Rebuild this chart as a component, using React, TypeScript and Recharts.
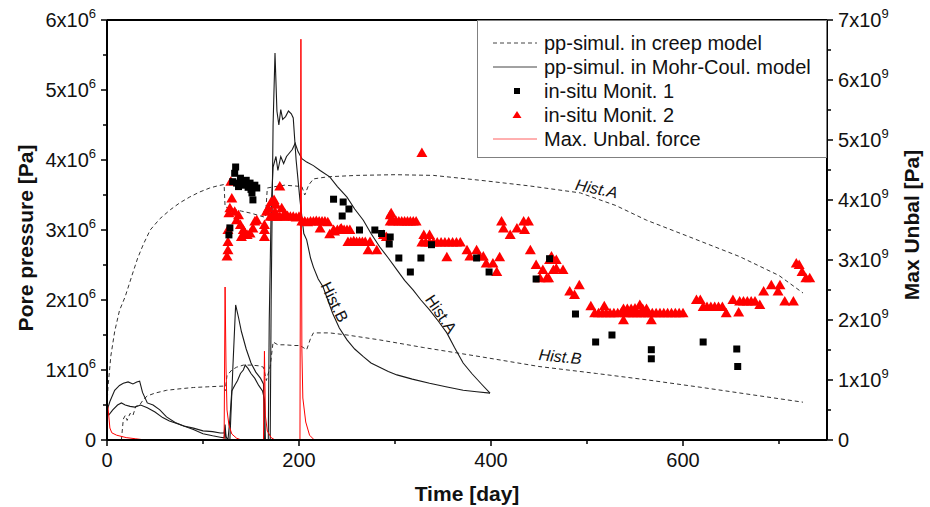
import React from "react";
import {
  ComposedChart,
  Line,
  Scatter,
  XAxis,
  YAxis,
  Legend,
  ReferenceLine,
  ReferenceDot,
} from "recharts";

const FONT = '"Liberation Sans", Arial, Helvetica, sans-serif';

// [time (day), pore pressure (MPa)]
const creepHistA: [number, number][] = [
  [0, 0.5], [1, 0.75], [4, 1.2], [8, 1.55], [13, 1.85], [19, 2.05], [26, 2.35], [32, 2.6],
  [38, 2.8], [45, 3.0], [55, 3.16], [66, 3.29], [76, 3.39], [86, 3.47], [96, 3.54], [107, 3.6],
  [115, 3.63], [122, 3.65], [123, 3.33], [130, 3.3], [140, 3.27], [150, 3.24], [160, 3.2],
  [165, 3.18], [167, 3.6], [175, 3.62], [185, 3.64], [195, 3.63], [203, 3.62], [206, 3.5],
  [210, 3.64], [215, 3.73], [230, 3.76], [260, 3.78], [300, 3.79], [340, 3.78], [389, 3.71],
  [440, 3.63], [493, 3.53], [530, 3.35], [562, 3.14], [607, 2.9], [659, 2.62], [700, 2.35],
  [725, 2.1],
];

const creepHistB: [number, number][] = [
  [15, 0], [17, 0.3], [19, 0.35], [21, 0.28], [24, 0.38], [27, 0.35], [30, 0.48], [34, 0.5],
  [38, 0.58], [42, 0.63], [50, 0.67], [62, 0.71], [75, 0.73], [90, 0.75], [105, 0.76],
  [121, 0.77], [123, 0.7], [125, 0.92], [130, 1.0], [135, 1.04], [142, 1.07], [150, 1.07],
  [158, 1.06], [163, 1.04], [166, 0.85], [170, 1.05], [173, 1.4], [178, 1.36], [185, 1.36],
  [195, 1.35], [201, 1.35], [208, 1.29], [212, 1.45], [215, 1.53], [232, 1.53], [250, 1.5],
  [284, 1.43], [330, 1.32], [389, 1.19], [450, 1.05], [510, 0.95], [562, 0.86], [620, 0.75],
  [680, 0.63], [725, 0.54],
];

const mohrHistA: [number, number][] = [
  [0, 0.42], [3, 0.55], [8, 0.71], [13, 0.78], [17, 0.81], [22, 0.83], [27, 0.8], [31, 0.83],
  [34, 0.84], [37, 0.68], [42, 0.53], [48, 0.5], [55, 0.43], [62, 0.33], [71, 0.25], [80, 0.2],
  [90, 0.17], [100, 0.13], [110, 0.12], [118, 0.1], [122, 0.1], [123, 0.22], [124, 0.05],
  [126, 0], [128, 0.3], [130, 0.7], [133, 0.78], [136, 0.85], [139, 0.95], [142, 1.0],
  [144, 1.07], [147, 1.02], [150, 0.95], [154, 0.88], [158, 0.78], [162, 0.7], [164, 0.58],
  [165, 0], [168, 0], [169, 1.7], [171, 3.3], [173, 3.9], [176, 4.05], [178, 3.85], [181, 4.05],
  [184, 3.95], [187, 4.05], [190, 4.1], [193, 4.15], [196, 4.24], [199, 4.12], [203, 4.02],
  [208, 3.97], [215, 3.92], [222, 3.85], [232, 3.76], [240, 3.62], [250, 3.47], [258, 3.3],
  [267, 3.14], [275, 2.95], [284, 2.76], [293, 2.6], [302, 2.43], [310, 2.28], [319, 2.14],
  [327, 2.0], [336, 1.86], [345, 1.7], [354, 1.53], [362, 1.32], [371, 1.1], [380, 0.95],
  [390, 0.8], [399, 0.67],
];

const mohrHistB: [number, number][] = [
  [0, 0.4], [2, 0.36], [6, 0.43], [11, 0.5], [15, 0.53], [19, 0.5], [24, 0.48], [29, 0.47],
  [35, 0.5], [42, 0.46], [50, 0.4], [58, 0.32], [65, 0.27], [72, 0.24], [80, 0.2], [90, 0.15],
  [100, 0.09], [110, 0.06], [118, 0.04], [122, 0.03], [123, 0.15], [124, 0], [128, 0],
  [131, 1.0], [134, 1.93], [137, 1.75], [140, 1.55], [145, 1.3], [150, 1.1], [155, 0.97],
  [160, 0.88], [163, 0.8], [164, 0], [170, 0], [171, 2.0], [173, 4.5], [175, 5.53], [177, 4.7],
  [179, 4.5], [181, 4.72], [183, 4.58], [186, 4.62], [189, 4.7], [192, 4.66], [194, 4.6],
  [197, 4.0], [201, 3.43], [205, 2.95], [208, 2.86], [212, 2.6], [215, 2.47], [220, 2.3],
  [225, 2.19], [230, 2.0], [235, 1.81], [242, 1.6], [250, 1.43], [258, 1.3], [267, 1.19],
  [275, 1.1], [284, 1.04], [293, 0.98], [302, 0.93], [318, 0.87], [336, 0.81], [353, 0.76],
  [371, 0.71], [385, 0.69], [399, 0.67],
];

const monit1: [number, number][] = [
  [127, 2.93], [128, 3.03], [131, 3.69], [133, 3.81], [134, 3.9], [135, 3.67], [137, 3.62],
  [139, 3.74], [141, 3.64], [142, 3.69], [144, 3.66], [145, 3.71], [147, 3.61], [149, 3.67],
  [150, 3.58], [151, 3.53], [152, 3.43], [154, 3.64], [156, 3.6], [236, 3.44], [246, 3.4],
  [252, 3.3], [245, 3.2], [263, 3.0], [279, 3.0], [286, 2.95], [295, 2.9], [294, 2.8],
  [304, 2.6], [316, 2.4], [327, 2.6], [338, 2.79], [385, 2.6], [398, 2.4], [447, 2.3],
  [461, 2.59], [488, 1.8], [509, 1.4], [526, 1.5], [567, 1.29], [567, 1.16], [621, 1.4],
  [656, 1.3], [657, 1.05],
];

const monit2: [number, number][] = [
  [125, 2.62], [126, 2.71], [126, 2.83], [126, 3.0], [127, 3.24], [128, 3.31], [129, 3.69],
  [130, 3.45], [133, 3.26], [135, 3.14], [137, 3.21], [139, 3.07], [140, 2.9], [142, 3.0],
  [144, 2.95], [146, 2.93], [149, 2.95], [152, 3.02], [154, 3.12], [156, 3.14], [164, 2.9],
  [164, 3.0], [164, 3.07], [166, 3.26], [168, 3.31], [171, 3.4], [174, 3.43], [175, 3.26],
  [176, 3.36], [180, 3.62], [182, 3.31], [185, 3.24], [170, 3.19], [173, 3.19], [177, 3.19],
  [180, 3.19], [184, 3.19], [188, 3.2], [191, 3.19], [194, 3.19], [197, 3.18], [200, 3.19],
  [203, 3.12], [206, 3.12], [209, 3.11], [212, 3.12], [215, 3.12], [218, 3.13], [221, 3.12],
  [224, 3.12], [227, 3.12], [230, 3.11], [222, 3.02], [232, 2.94], [237, 2.98], [244, 3.02],
  [236, 3.0], [240, 3.0], [243, 3.01], [247, 3.0], [250, 3.0], [253, 3.0], [251, 2.83],
  [254, 2.83], [257, 2.84], [260, 2.83], [263, 2.83], [266, 2.83], [269, 2.83], [272, 2.71],
  [274, 2.83], [281, 2.71], [288, 2.93], [291, 2.9], [295, 3.21], [296, 3.24], [295, 3.12],
  [298, 3.12], [301, 3.13], [304, 3.12], [307, 3.12], [310, 3.12], [313, 3.12], [316, 3.12],
  [319, 3.12], [322, 3.12], [328, 4.1], [330, 2.93], [336, 2.93], [328, 2.82], [332, 2.82],
  [336, 2.82], [340, 2.82], [344, 2.82], [348, 2.82], [352, 2.82], [356, 2.82], [360, 2.82],
  [364, 2.82], [368, 2.82], [354, 2.61], [375, 2.71], [378, 2.62], [385, 2.71], [388, 2.62],
  [392, 2.62], [395, 2.52], [402, 2.52], [406, 2.4], [409, 2.61], [411, 3.12], [413, 3.02],
  [420, 2.93], [427, 3.02], [434, 3.12], [435, 3.0], [439, 3.12], [441, 2.71], [447, 2.5],
  [451, 2.31], [454, 2.43], [458, 2.31], [460, 2.31], [461, 2.57], [463, 2.62], [465, 2.43],
  [468, 2.57], [468, 2.45], [475, 2.43], [482, 2.12], [487, 2.07], [492, 2.21], [504, 1.91],
  [508, 1.81], [512, 1.81], [516, 1.81], [518, 1.91], [520, 1.81], [524, 1.81], [528, 1.81],
  [532, 1.81], [536, 1.82], [538, 1.71], [538, 1.87], [542, 1.87], [546, 1.87], [550, 1.88],
  [555, 1.93], [558, 1.87], [562, 1.87], [540, 1.81], [544, 1.81], [548, 1.81], [552, 1.81],
  [556, 1.81], [560, 1.81], [564, 1.81], [567, 1.71], [568, 1.81], [572, 1.81], [576, 1.81],
  [580, 1.81], [584, 1.81], [588, 1.81], [592, 1.81], [596, 1.81], [600, 1.81], [614, 2.0],
  [618, 2.0], [621, 1.9], [625, 1.9], [629, 1.9], [633, 1.9], [637, 1.9], [641, 1.9],
  [645, 1.81], [652, 2.0], [658, 1.82], [659, 1.98], [663, 1.98], [667, 1.98], [671, 1.98],
  [675, 1.98], [680, 1.93], [684, 2.12], [692, 2.21], [699, 2.12], [701, 2.21], [706, 1.98],
  [715, 1.98], [718, 2.52], [721, 2.5], [724, 2.4], [728, 2.31], [732, 2.31],
];

// [time (day), max unbalanced force (GPa)]
const unbalForce: [number, number][] = [
  [0, 0.6], [1, 0.55], [3, 0.2], [5, 0.12], [10, 0.08], [20, 0.04], [30, 0.02], [40, 0],
  [122, 0], [123, 2.55], [124, 1.2], [125, 0.5], [127, 0.25], [130, 0.1], [135, 0.03],
  [140, 0], [163, 0], [164, 1.48], [165, 0.4], [167, 0.15], [171, 0.04], [175, 0], [201, 0],
  [202, 6.68], [203, 1.5], [204, 0.7], [207, 0.3], [211, 0.08], [216, 0], [727, 0],
];

const xTicks = [0, 100, 200, 300, 400, 500, 600, 700];
const leftTicks = [0, 5e5, 1e6, 1.5e6, 2e6, 2.5e6, 3e6, 3.5e6, 4e6, 4.5e6, 5e6, 5.5e6, 6e6];
const rightTicks = [0, 5e8, 1e9, 1.5e9, 2e9, 2.5e9, 3e9, 3.5e9, 4e9, 4.5e9, 5e9, 5.5e9, 6e9, 6.5e9, 7e9];

const legendItems = [
  { label: "pp-simul. in creep model", kind: "dash" },
  { label: "pp-simul. in Mohr-Coul. model", kind: "solid" },
  { label: "in-situ Monit. 1", kind: "square" },
  { label: "in-situ Monit. 2", kind: "triangle" },
  { label: "Max. Unbal. force", kind: "red" },
];

const notes = [
  { text: "Hist.A", t: 510, p: 3.59, angle: 12, italic: true },
  { text: "Hist.B", t: 472, p: 1.19, angle: 6, italic: true },
  { text: "Hist.B", t: 237, p: 1.97, angle: 64, italic: false },
  { text: "Hist.A", t: 348, p: 1.8, angle: 56, italic: false },
];

const toPts = (arr: [number, number][], scale: number) =>
  arr.map(([t, p]) => ({ t, p: p * scale }));

const isWhole = (v: number) => Math.abs(v - Math.round(v)) < 1e-6;

function PowLabel({ v, exp }: { v: number; exp: number }) {
  if (v === 0) return <>0</>;
  return (
    <>
      {v}x10
      <tspan dy={-9} fontSize={13}>
        {exp}
      </tspan>
    </>
  );
}

function LeftTick({ x, y, payload }: any) {
  const v = payload.value / 1e6;
  const major = isWhole(v);
  const ax = x + 10;
  return (
    <g>
      <line x1={ax - (major ? 6 : 4)} x2={ax} y1={y} y2={y} stroke="#000" strokeWidth={1.5} />
      {major && (
        <text x={x - 1} y={y} dy={7} textAnchor="end" fontSize={20} fontFamily={FONT} fill="#111">
          <PowLabel v={Math.round(v)} exp={6} />
        </text>
      )}
    </g>
  );
}

function RightTick({ x, y, payload }: any) {
  const v = payload.value / 1e9;
  const major = isWhole(v);
  const ax = x - 10;
  return (
    <g>
      <line x1={ax} x2={ax + (major ? 6 : 4)} y1={y} y2={y} stroke="#000" strokeWidth={1.5} />
      {major && (
        <text x={x + 1} y={y} dy={7} textAnchor="start" fontSize={20} fontFamily={FONT} fill="#111">
          <PowLabel v={Math.round(v)} exp={9} />
        </text>
      )}
    </g>
  );
}

function BottomTick({ x, y, payload }: any) {
  const ay = y - 9;
  const major = payload.value % 200 === 0;
  return (
    <g>
      <line x1={x} x2={x} y1={ay} y2={ay + (major ? 6 : 4)} stroke="#000" strokeWidth={1.5} />
      {major && (
        <text x={x} y={y} dy={18} textAnchor="middle" fontSize={20} fontFamily={FONT} fill="#111">
          {payload.value}
        </text>
      )}
    </g>
  );
}

const Square = ({ cx, cy }: any) => <rect x={cx - 3.5} y={cy - 3.5} width={7} height={7} fill="#000" />;

const Triangle = ({ cx, cy }: any) => (
  <polygon points={`${cx},${cy - 5.5} ${cx - 5.5},${cy + 4} ${cx + 5.5},${cy + 4}`} fill="#ff0000" />
);

function LegendBox() {
  return (
    <svg width={351} height={138} style={{ display: "block" }}>
      <rect x={0.5} y={0.5} width={349} height={137} fill="#fff" stroke="#808080" />
      {legendItems.map((it, i) => {
        const cy = 23 + i * 24;
        let mark = null;
        if (it.kind === "dash")
          mark = <line x1={16} x2={60} y1={cy} y2={cy} stroke="#444" strokeDasharray="4 3" />;
        if (it.kind === "solid") mark = <line x1={16} x2={60} y1={cy} y2={cy} stroke="#444" />;
        if (it.kind === "square") mark = <rect x={37} y={cy - 3} width={6} height={6} fill="#000" />;
        if (it.kind === "triangle")
          mark = <polygon points={`40,${cy - 4} 35.5,${cy + 3} 44.5,${cy + 3}`} fill="#ff0000" />;
        if (it.kind === "red") mark = <line x1={16} x2={60} y1={cy} y2={cy} stroke="#ff6060" />;
        return (
          <g key={i}>
            {mark}
            <text x={67} y={cy} dy={7} fontSize={20} fontFamily={FONT} fill="#111">
              {it.label}
            </text>
          </g>
        );
      })}
    </svg>
  );
}

export default function App() {
  const axisLine = { stroke: "#000", strokeWidth: 2 };
  return (
    <div style={{ position: "absolute", left: 0, top: 0, width: 930, height: 507, background: "#fff" }}>
      <ComposedChart width={930} height={507} margin={{ top: 20, right: 0, bottom: 27, left: 0 }}>
        <XAxis
          dataKey="t"
          type="number"
          domain={[0, 750]}
          ticks={xTicks}
          tick={<BottomTick />}
          tickLine={false}
          tickSize={5}
          tickMargin={4}
          axisLine={axisLine}
          height={40}
          allowDataOverflow
          label={{
            content: ({ viewBox }: any) => (
              <text
                x={viewBox.x + viewBox.width / 2}
                y={viewBox.y + 61}
                textAnchor="middle"
                fontSize={21}
                fontWeight="bold"
                fontFamily={FONT}
                fill="#111"
              >
                Time [day]
              </text>
            ),
          }}
        />
        <YAxis
          yAxisId="left"
          type="number"
          domain={[0, 6e6]}
          ticks={leftTicks}
          tick={<LeftTick />}
          tickLine={false}
          tickSize={6}
          tickMargin={4}
          axisLine={axisLine}
          width={107}
          allowDataOverflow
          label={{
            content: ({ viewBox }: any) => {
              const cx = viewBox.x + 25;
              const cy = 238;
              return (
                <text
                  x={cx}
                  y={cy}
                  transform={`rotate(-90 ${cx} ${cy})`}
                  textAnchor="middle"
                  dominantBaseline="central"
                  fontSize={21}
                  fontWeight="bold"
                  fontFamily={FONT}
                  fill="#111"
                >
                  Pore pressure [Pa]
                </text>
              );
            },
          }}
        />
        <YAxis
          yAxisId="right"
          orientation="right"
          type="number"
          domain={[0, 7e9]}
          ticks={rightTicks}
          tick={<RightTick />}
          tickLine={false}
          tickSize={6}
          tickMargin={4}
          axisLine={axisLine}
          width={103}
          allowDataOverflow
          label={{
            content: ({ viewBox }: any) => {
              const cx = viewBox.x + 84;
              const cy = 225;
              return (
                <text
                  x={cx}
                  y={cy}
                  transform={`rotate(-90 ${cx} ${cy})`}
                  textAnchor="middle"
                  dominantBaseline="central"
                  fontSize={21}
                  fontWeight="bold"
                  fontFamily={FONT}
                  fill="#111"
                >
                  Max Unbal [Pa]
                </text>
              );
            },
          }}
        />
        <ReferenceLine yAxisId="left" y={6e6} stroke="#000" strokeWidth={2} />

        <Line
          yAxisId="left"
          data={toPts(creepHistA, 1e6)}
          dataKey="p"
          type="linear"
          stroke="#333"
          strokeWidth={1}
          strokeDasharray="4 3"
          dot={false}
          isAnimationActive={false}
        />
        <Line
          yAxisId="left"
          data={toPts(creepHistB, 1e6)}
          dataKey="p"
          type="linear"
          stroke="#333"
          strokeWidth={1}
          strokeDasharray="4 3"
          dot={false}
          isAnimationActive={false}
        />
        <Line
          yAxisId="left"
          data={toPts(mohrHistA, 1e6)}
          dataKey="p"
          type="linear"
          stroke="#1a1a1a"
          strokeWidth={1.1}
          dot={false}
          isAnimationActive={false}
        />
        <Line
          yAxisId="left"
          data={toPts(mohrHistB, 1e6)}
          dataKey="p"
          type="linear"
          stroke="#1a1a1a"
          strokeWidth={1.1}
          dot={false}
          isAnimationActive={false}
        />
        <Line
          yAxisId="right"
          data={toPts(unbalForce, 1e9)}
          dataKey="p"
          type="linear"
          stroke="#ff0000"
          strokeWidth={1}
          dot={false}
          isAnimationActive={false}
        />
        <Scatter
          yAxisId="left"
          data={toPts(monit2, 1e6)}
          dataKey="p"
          shape={<Triangle />}
          isAnimationActive={false}
        />
        <Scatter
          yAxisId="left"
          data={toPts(monit1, 1e6)}
          dataKey="p"
          shape={<Square />}
          isAnimationActive={false}
        />

        {notes.map((n, i) => (
          <ReferenceDot
            key={i}
            yAxisId="left"
            x={n.t}
            y={n.p * 1e6}
            r={1}
            shape={({ cx, cy }: any) => (
              <text
                x={cx}
                y={cy}
                transform={`rotate(${n.angle} ${cx} ${cy})`}
                textAnchor="middle"
                dominantBaseline="central"
                fontSize={16}
                fontStyle={n.italic ? "italic" : "normal"}
                fontFamily={FONT}
                fill="#111"
              >
                {n.text}
              </text>
            )}
          />
        ))}

        <Legend
          layout="vertical"
          align="center"
          verticalAlign="middle"
          content={() => <LegendBox />}
          wrapperStyle={{ left: 477, top: 20, width: 351, height: 138 }}
        />
      </ComposedChart>
    </div>
  );
}
